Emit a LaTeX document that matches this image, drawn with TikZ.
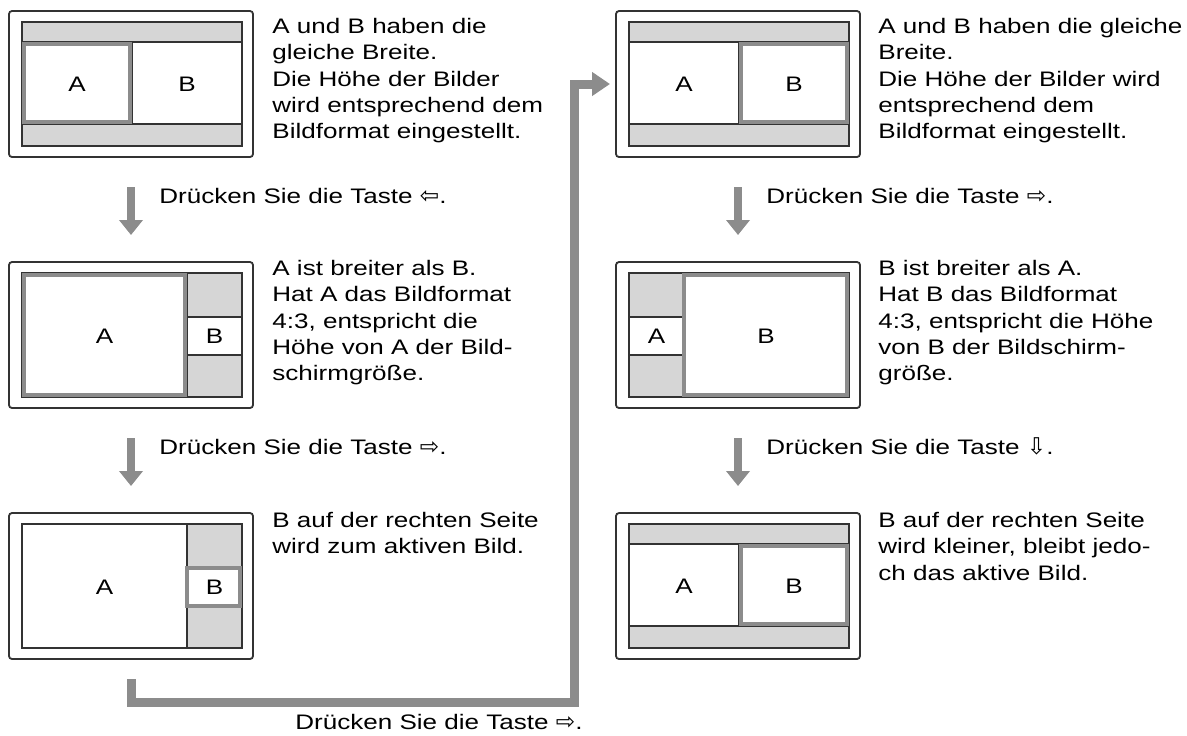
\documentclass[tikz,border=0pt]{standalone}
\usepackage{fontspec}
\setmainfont{Liberation Sans}[FakeStretch=1.24]
\newfontfamily\symfont{DejaVu Sans}
\usepackage{graphicx}
\usetikzlibrary{arrows.meta,calc}
\definecolor{framegray}{gray}{0.2}
\definecolor{bargray}{gray}{0.55}
\definecolor{bandgray}{gray}{0.84}
\newcommand{\TasteLinks}{{\symfont\scalebox{1.1}{⇦}}}
\newcommand{\TasteRechts}{{\symfont\scalebox{1.1}{⇨}}}
\newcommand{\TasteUnten}{{\symfont\scalebox{1.1}{⇩}}}

\begin{document}
\begin{tikzpicture}[
  x=0.5pt, y=-0.5pt,
  font=\fontsize{10.5}{13.1}\selectfont,
  tv/.style={draw=framegray, line width=0.9pt, rounded corners=1.5pt, minimum width=122pt, minimum height=73pt, inner sep=0pt, outer sep=0pt},
  screen/.style={draw=framegray, line width=0.8pt, fill=white},
  band/.style={draw=framegray, line width=0.6pt, fill=bandgray},
  cell/.style={draw=framegray, line width=0.6pt},
  active/.style={draw=bargray, line width=2pt},
  caption/.style={anchor=north west, align=left, inner sep=0pt},
  keytext/.style={anchor=base west, inner sep=0pt},
  steparrow/.style={draw=bargray, line width=4pt, -{Triangle[length=7.5pt, width=11.5pt]}, shorten <=15pt, shorten >=13.5pt},
  loopbar/.style={draw=bargray, line width=4.5pt, -{Triangle[length=9pt, width=11.5pt]}}
]
\useasboundingbox (0,0) rectangle (1187,735);

% Monitors: left column first, then right column
\node[tv] (tv1) at (131,84) {};
\node[tv] (tv2) at (131,335) {};
\node[tv] (tv3) at (131,586) {};
\node[tv] (tv4) at (738,84) {};
\node[tv] (tv5) at (738,335) {};
\node[tv] (tv6) at (738,586) {};

% A and B side by side, active picture framed in gray
\foreach \tv/\hx in {tv1/13, tv4/123, tv6/123} {
  \begin{scope}[shift={(\tv.north west)}]
    \draw[screen] (13,11) rectangle (233,135);
    \draw[band] (13,11) rectangle (233,31);
    \draw[band] (13,113) rectangle (233,135);
    \draw[cell] (123,31) -- (123,113);
    \node (\tv a) at (68,73) {A};
    \node (\tv b) at (178,73) {B};
    \draw[active] (\hx+2,33) rectangle (\hx+108,111);
  \end{scope}
}

% A wide, B in the right column
\foreach \tv in {tv2, tv3} {
  \begin{scope}[shift={(\tv.north west)}]
    \draw[screen] (13,11) rectangle (233,135);
    \draw[band] (178,11) rectangle (233,55);
    \draw[band] (178,93) rectangle (233,135);
    \draw[cell] (178,11) -- (178,135);
    \node (\tv a) at (95.5,74) {A};
    \node (\tv b) at (205.5,74) {B};
  \end{scope}
}
\draw[active] ([shift={(15,13)}]tv2.north west) rectangle ([shift={(176,133)}]tv2.north west);
\draw[active] ([shift={(178,55)}]tv3.north west) rectangle ([shift={(231,93)}]tv3.north west);

% B wide, A in the left column
\begin{scope}[shift={(tv5.north west)}]
  \draw[screen] (13,11) rectangle (233,135);
  \draw[band] (13,11) rectangle (68,55);
  \draw[band] (13,93) rectangle (68,135);
  \draw[cell] (68,11) -- (68,135);
  \node (tv5a) at (40.5,74) {A};
  \node (tv5b) at (150,74) {B};
  \draw[active] (68,13) rectangle (231,133);
\end{scope}

% Captions
\node[caption] (t1) at ([shift={(19,7)}]tv1.north east) {A und B haben die\\gleiche Breite.\\Die Höhe der Bilder\\wird entsprechend dem\\Bildformat eingestellt.};
\node[caption] (t2) at ([shift={(19,-2)}]tv2.north east) {A ist breiter als B.\\Hat A das Bildformat\\4:3, entspricht die\\Höhe von A der Bild-\\schirmgröße.};
\node[caption] (t3) at ([shift={(19,-1)}]tv3.north east) {B auf der rechten Seite\\wird zum aktiven Bild.};
\node[caption] (t4) at ([shift={(18,7)}]tv4.north east) {A und B haben die gleiche\\Breite.\\Die Höhe der Bilder wird\\entsprechend dem\\Bildformat eingestellt.};
\node[caption] (t5) at ([shift={(18,-2)}]tv5.north east) {B ist breiter als A.\\Hat B das Bildformat\\4:3, entspricht die Höhe\\von B der Bildschirm-\\größe.};
\node[caption] (t6) at ([shift={(18,-1)}]tv6.north east) {B auf der rechten Seite\\wird kleiner, bleibt jedo-\\ch das aktive Bild.};

% Key presses
\draw[steparrow] (tv1) -- (tv2);
\draw[steparrow] (tv2) -- (tv3);
\draw[steparrow] (tv4) -- (tv5);
\draw[steparrow] (tv5) -- (tv6);
\node[keytext] (k1) at ([shift={(28,46)}]tv1.south) {Drücken Sie die Taste \TasteLinks.};
\node[keytext] (k2) at ([shift={(28,46)}]tv2.south) {Drücken Sie die Taste \TasteRechts.};
\node[keytext] (k4) at ([shift={(28,46)}]tv4.south) {Drücken Sie die Taste \TasteRechts.};
\node[keytext] (k5) at ([shift={(28,46)}]tv5.south) {Drücken Sie die Taste \TasteUnten.};

% Back to the top of the right column
\coordinate (loopstart) at ([yshift=-10pt]tv3.south);
\draw[loopbar] (loopstart) |- (574.5,702.5) |- ([xshift=-3pt]tv4.west);
\node[keytext] (k3) at (295,729) {Drücken Sie die Taste \TasteRechts.};
\end{tikzpicture}
\end{document}
